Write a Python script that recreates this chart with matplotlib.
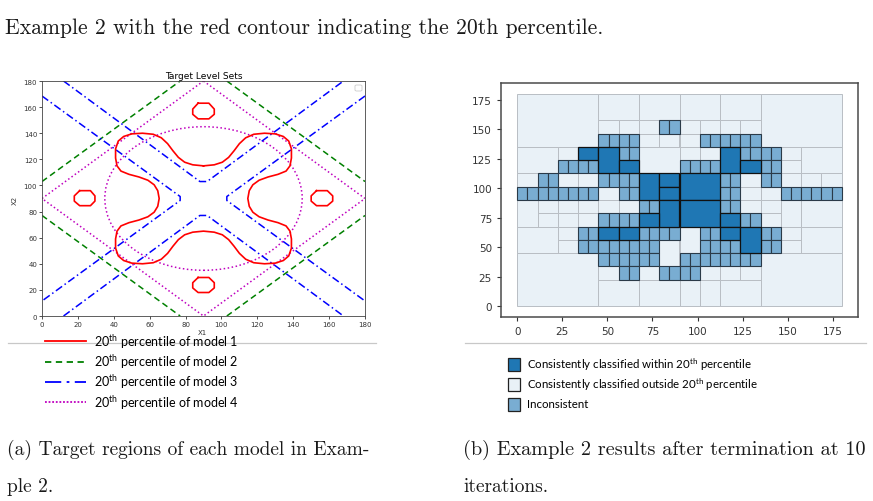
import matplotlib
matplotlib.use("Agg")
import matplotlib.pyplot as plt
from matplotlib.patches import Rectangle, Circle, FancyBboxPatch
from matplotlib.lines import Line2D

plt.rcParams['mathtext.fontset'] = 'custom'
plt.rcParams['mathtext.rm'] = 'Lato'
plt.rcParams['mathtext.it'] = 'Lato'

# ---- left panel: level-set curves (x1, x2) ----
red_x = [90, 84, 79.5, 76, 73, 70, 66.5, 62, 56, 50, 45.5, 42.5, 41, 41, 41.8, 44, 48.5, 54, 59, 62.5, 64.5, 65.3,
         64.5, 62.5, 59, 54, 48.5, 44, 41.8, 41, 41, 42.5, 45.5, 50, 56, 62, 66.5, 70, 73, 76, 79.5, 84, 90,
         96, 100.5, 104, 107, 110, 113.5, 118, 124, 130, 134.5, 137.5, 139, 139, 138.2, 136, 131.5, 126, 121, 117.5, 115.5, 114.7,
         115.5, 117.5, 121, 126, 131.5, 136, 138.2, 139, 139, 137.5, 134.5, 130, 124, 118, 113.5, 110, 107, 104, 100.5, 96, 90]
red_y = [115, 115.8, 117.8, 121.5, 126.5, 132, 136.5, 139.2, 140, 139.5, 137.5, 134, 128, 121, 115, 111, 108.5, 106.5, 104, 100.5, 96, 90,
         84, 79.5, 76, 73.5, 71.5, 69, 65, 59, 52, 46, 42.5, 40.5, 40, 40.8, 43.5, 48, 53.5, 58.5, 62.2, 64.2, 65,
         64.2, 62.2, 58.5, 53.5, 48, 43.5, 40.8, 40, 40.5, 42.5, 46, 52, 59, 65, 69, 71.5, 73.5, 76, 79.5, 84, 90,
         96, 100.5, 104, 106.5, 108.5, 111, 115, 121, 128, 134, 137.5, 139.5, 140, 139.2, 136.5, 132, 126.5, 121.5, 117.8, 115.8, 115]

blob_x = [[87, 93, 96, 96, 93, 87, 84, 84, 87],
          [87, 93, 96, 96, 93, 87, 84, 84, 87],
          [21, 27, 29.5, 29.5, 27, 21, 18, 18, 21],
          [153, 159, 162, 162, 159, 153, 150, 150, 153]]
blob_y = [[163, 163, 158.5, 154.5, 151, 151, 154.5, 158.5, 163],
          [29.5, 29.5, 25.5, 21.5, 18, 18, 21.5, 25.5, 29.5],
          [96, 96, 92, 88, 84.5, 84.5, 88, 92, 96],
          [96, 96, 92, 88, 84.5, 84.5, 88, 92, 96]]

green_x = [[0, 77], [103, 180], [0, 77], [103, 180]]
green_y = [[103, 180], [180, 103], [77, 0], [0, 77]]

blue_x = [[12, 88, 92, 168], [12, 88, 92, 168], [0, 77, 77, 0], [180, 103, 103, 180]]
blue_y = [[180, 103, 103, 180], [0, 77, 77, 0], [168.5, 91.5, 88.5, 11.5], [168.5, 91.5, 88.5, 11.5]]

diamond_x = [90, 180, 90, 0, 90]
diamond_y = [180, 90, 0, 90, 180]
circle_center = (90, 90)
circle_radius = 55

legend_a = [r'20$^{\mathrm{th}}$ percentile of model 1', r'20$^{\mathrm{th}}$ percentile of model 2',
            r'20$^{\mathrm{th}}$ percentile of model 3', r'20$^{\mathrm{th}}$ percentile of model 4']

# ---- right panel: partition cells ----
dark_cells = [(33.75, 123.75, 11.25, 11.25), (45, 112.5, 11.25, 22.5), (56.25, 112.5, 11.25, 11.25),
              (112.5, 112.5, 11.25, 22.5), (123.75, 112.5, 11.25, 11.25), (67.5, 90, 11.25, 22.5),
              (78.75, 101.25, 11.25, 11.25), (78.75, 90, 11.25, 11.25), (90, 90, 22.5, 22.5),
              (78.75, 67.5, 11.25, 22.5), (90, 67.5, 22.5, 22.5), (67.5, 67.5, 11.25, 11.25),
              (112.5, 67.5, 11.25, 11.25), (45, 56.25, 11.25, 11.25), (56.25, 56.25, 11.25, 11.25),
              (112.5, 56.25, 11.25, 11.25), (123.75, 45, 11.25, 22.5)]

inc_w, inc_h = 5.625, 11.25
inc_rows = {
    146.25: [78.75, 84.375],
    135.0: [45, 50.625, 56.25, 61.875, 101.25, 106.875, 112.5, 118.125, 123.75, 129.375],
    123.75: [56.25, 61.875, 123.75, 129.375, 135, 140.625],
    112.5: [22.5, 28.125, 33.75, 39.375, 90, 95.625, 101.25, 106.875, 135, 140.625],
    101.25: [11.25, 16.875, 45, 50.625, 56.25, 61.875, 112.5, 118.125, 135, 140.625],
    90.0: [0, 5.625, 11.25, 16.875, 22.5, 28.125, 33.75, 39.375, 56.25, 61.875, 112.5, 118.125,
           146.25, 151.875, 157.5, 163.125, 168.75, 174.375],
    78.75: [67.5, 73.125, 112.5, 118.125],
    67.5: [45, 50.625, 56.25, 61.875, 123.75, 129.375],
    56.25: [33.75, 39.375, 67.5, 73.125, 78.75, 84.375, 101.25, 106.875, 135, 140.625],
    45.0: [33.75, 39.375, 45, 50.625, 56.25, 61.875, 67.5, 73.125, 101.25, 106.875, 112.5, 118.125, 135, 140.625],
    33.75: [45, 50.625, 56.25, 61.875, 67.5, 73.125, 90, 95.625, 101.25, 106.875, 112.5, 118.125, 123.75, 129.375],
    22.5: [56.25, 61.875, 78.75, 84.375, 90, 95.625],
}

light_cells = [(0, 135, 45, 45), (45, 157.5, 22.5, 22.5), (67.5, 157.5, 22.5, 22.5), (90, 157.5, 22.5, 22.5),
               (112.5, 157.5, 22.5, 22.5), (135, 135, 45, 45),
               (45, 146.25, 11.25, 11.25), (56.25, 146.25, 11.25, 11.25), (67.5, 146.25, 11.25, 11.25),
               (90, 146.25, 11.25, 11.25), (101.25, 146.25, 11.25, 11.25), (112.5, 146.25, 11.25, 11.25),
               (123.75, 146.25, 11.25, 11.25), (67.5, 135, 11.25, 11.25), (78.75, 135, 11.25, 11.25),
               (90, 135, 11.25, 11.25), (0, 112.5, 22.5, 22.5), (22.5, 123.75, 11.25, 11.25),
               (67.5, 112.5, 22.5, 22.5), (90, 123.75, 11.25, 11.25), (101.25, 123.75, 11.25, 11.25),
               (146.25, 123.75, 11.25, 11.25), (146.25, 112.5, 11.25, 11.25), (157.5, 112.5, 22.5, 22.5),
               (0, 101.25, 11.25, 11.25), (22.5, 101.25, 11.25, 11.25), (33.75, 101.25, 11.25, 11.25),
               (123.75, 101.25, 11.25, 11.25), (146.25, 101.25, 11.25, 11.25), (157.5, 101.25, 11.25, 11.25),
               (168.75, 101.25, 11.25, 11.25), (45, 90, 11.25, 11.25), (123.75, 90, 11.25, 11.25),
               (135, 90, 11.25, 11.25), (0, 67.5, 11.25, 22.5), (11.25, 78.75, 11.25, 11.25),
               (11.25, 67.5, 11.25, 11.25), (22.5, 78.75, 11.25, 11.25), (33.75, 78.75, 11.25, 11.25),
               (22.5, 67.5, 11.25, 11.25), (33.75, 67.5, 11.25, 11.25), (45, 78.75, 11.25, 11.25),
               (56.25, 78.75, 11.25, 11.25), (123.75, 78.75, 11.25, 11.25), (135, 78.75, 11.25, 11.25),
               (135, 67.5, 11.25, 11.25), (146.25, 67.5, 11.25, 22.5), (157.5, 67.5, 22.5, 22.5),
               (0, 45, 22.5, 22.5), (22.5, 56.25, 11.25, 11.25), (22.5, 45, 11.25, 11.25),
               (78.75, 33.75, 11.25, 22.5), (90, 45, 11.25, 22.5), (146.25, 56.25, 11.25, 11.25),
               (146.25, 45, 11.25, 11.25), (157.5, 45, 22.5, 22.5), (0, 0, 45, 45), (135, 0, 45, 45),
               (45, 0, 22.5, 22.5), (67.5, 0, 22.5, 22.5), (90, 0, 11.25, 22.5), (101.25, 0, 11.25, 22.5),
               (112.5, 0, 22.5, 22.5), (45, 22.5, 11.25, 11.25), (67.5, 22.5, 11.25, 11.25),
               (101.25, 22.5, 11.25, 11.25), (112.5, 22.5, 11.25, 11.25), (123.75, 22.5, 11.25, 11.25)]

legend_b = [r'Consistently classified within 20$^{\mathrm{th}}$ percentile',
            r'Consistently classified outside 20$^{\mathrm{th}}$ percentile', 'Inconsistent']

DARK = '#1f77b4'
MID = '#79add2'
LIGHT = '#e9f1f7'

W, H = 873, 502
fig = plt.figure(figsize=(W / 100, H / 100), dpi=100)


def fx(px):
    return px / W


def fy(py):
    return 1 - py / H


# ---------------- left panel ----------------
ax1 = fig.add_axes([fx(42), fy(317), 323 / W, 235 / H])
for xs, ys in zip(green_x, green_y):
    ax1.plot(xs, ys, color='g', ls='--', lw=1.1, dashes=(4, 2.5))
for xs, ys in zip(blue_x, blue_y):
    ax1.plot(xs, ys, color='b', ls='-.', lw=1.1, dashes=(5, 2, 1, 2))
ax1.plot(diamond_x, diamond_y, color='m', ls=':', lw=1.1)
ax1.add_patch(Circle(circle_center, circle_radius, fill=False, ec='m', ls=':', lw=1.1))
ax1.plot(red_x, red_y, color='r', lw=1.2)
for xs, ys in zip(blob_x, blob_y):
    ax1.plot(xs, ys, color='r', lw=1.2)
ax1.set_xlim(0, 180)
ax1.set_ylim(0, 180)
ax1.set_xticks(range(0, 181, 20))
ax1.set_yticks(range(0, 181, 20))
ax1.tick_params(labelsize=5, length=2, width=0.6, pad=1.5, colors='#333333')
for s in ax1.spines.values():
    s.set_linewidth(0.6)
    s.set_color('#444444')
ax1.set_title('Target Level Sets', fontsize=6.5, pad=2)
fig.text(fx(202), fy(333), 'X1', fontsize=5, ha='center', va='center', color='#333333')
fig.text(fx(15), fy(200), 'X2', fontsize=5, ha='center', va='center', rotation=90, color='#333333')
fig.patches.append(FancyBboxPatch((fx(355), fy(92)), 7 / W, 6 / H, boxstyle='round,pad=0,rounding_size=0.002',
                                  transform=fig.transFigure, fc='white', ec='#cccccc', lw=0.6))

# ---------------- right panel ----------------
ax2 = fig.add_axes([fx(501), fy(318), 357 / W, 234 / H])
for (x0, y0, w, h) in light_cells:
    ax2.add_patch(Rectangle((x0, y0), w, h, fc=LIGHT, ec='#b9bec4', lw=0.7))
for y0, xs in inc_rows.items():
    for x0 in xs:
        ax2.add_patch(Rectangle((x0, y0), inc_w, inc_h, fc=MID, ec='#2a3a48', lw=0.8))
for (x0, y0, w, h) in dark_cells:
    ax2.add_patch(Rectangle((x0, y0), w, h, fc=DARK, ec='#111111', lw=0.9))
ax2.set_xlim(-9, 189)
ax2.set_ylim(-9, 189)
ax2.set_xticks(range(0, 176, 25))
ax2.set_yticks(range(0, 176, 25))
ax2.tick_params(labelsize=7.5, length=3, width=0.8, colors='#333333')
for s in ax2.spines.values():
    s.set_linewidth(1.1)
    s.set_color('#4a4a4a')

# ---------------- separators / legends ----------------
fig.add_artist(Line2D([fx(8), fx(376)], [fy(344), fy(344)], color='#c8c8c8', lw=0.9))
fig.add_artist(Line2D([fx(465), fx(866)], [fy(344), fy(344)], color='#c8c8c8', lw=0.9))

styles = [dict(color='r', ls='-'), dict(color='g', ls='--', dashes=(3.5, 2.5)),
          dict(color='b', ls='-.', dashes=(9, 3, 1.5, 3)), dict(color='m', ls=':', dashes=(1, 1))]
for i, (lab, st) in enumerate(zip(legend_a, styles)):
    yy = [342, 362.5, 382.5, 403][i]
    fig.add_artist(Line2D([fx(45), fx(86)], [fy(yy), fy(yy)], lw=1.3, **st))
    fig.text(fx(94), fy(yy), lab, fontsize=9, family='Lato', va='center', ha='left')

for i, (lab, fc) in enumerate(zip(legend_b, [DARK, LIGHT, MID])):
    yy = [365, 385, 405][i]
    fig.patches.append(Rectangle((fx(508), fy(yy + 6.5)), 12 / W, 13 / H, transform=fig.transFigure,
                                 fc=fc, ec='#222222', lw=0.9))
    fig.text(fx(527), fy(yy), lab, fontsize=8.3, family='Lato', va='center', ha='left')

# ---------------- captions ----------------
cap = dict(family='cmr10', fontsize=14, va='center', ha='left', color='#1a1a1a')
fig.text(fx(5), fy(28), 'Example 2 with the red contour indicating the 20th percentile.',
         family='cmr10', fontsize=15.6, va='center', ha='left', color='#1a1a1a')
fig.text(fx(7), fy(450), '(a) Target regions of each model in Exam-', **cap)
fig.text(fx(7), fy(487), 'ple 2.', **cap)
fig.text(fx(463), fy(450), '(b) Example 2 results after termination at 10', fontsize=14.6,
         family='cmr10', va='center', ha='left', color='#1a1a1a')
fig.text(fx(463), fy(487), 'iterations.', **cap)

fig.savefig('out.png', dpi=100)
